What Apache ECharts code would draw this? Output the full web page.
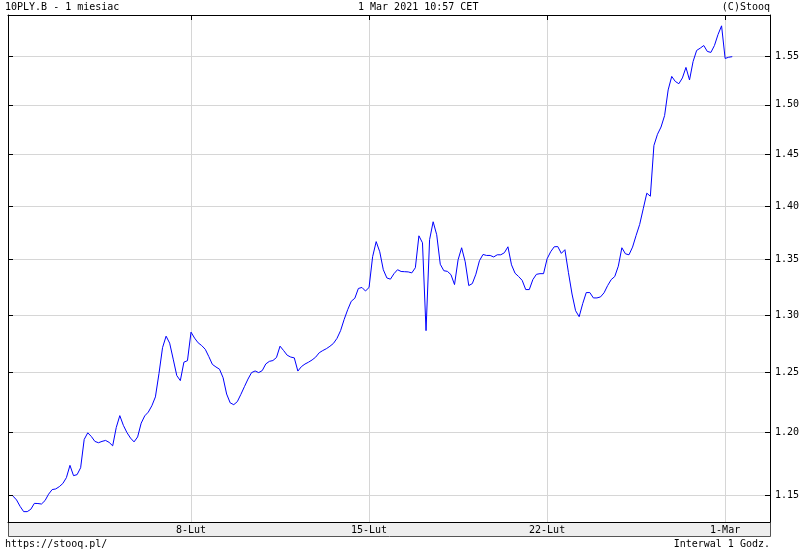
<!DOCTYPE html>
<html><head><meta charset="utf-8">
<script src="https://cdn.jsdelivr.net/npm/echarts@6/dist/echarts.min.js"></script>
<style>html,body{margin:0;padding:0;background:#fff}#c{width:800px;height:550px}</style>
</head><body><div id="c"></div>
<script>
// hourly 10Y PL bond yield, 1 Feb 2021 .. 1 Mar 2021 10:57 (trading hours only)
const yields = [
1.1492,1.1462,1.1412,1.1371,1.1371,1.1389,1.1435,1.1434,1.1430,1.1457,
1.1507,1.1543,1.1548,1.1566,1.1591,1.1637,1.1735,1.1653,1.1661,1.1716,
1.1944,1.1998,1.1968,1.1928,1.1917,1.1928,1.1936,1.1920,1.1892,1.2041,
1.2139,1.2059,1.2000,1.1955,1.1924,1.1964,1.2077,1.2137,1.2168,1.2221,
1.2295,1.2492,1.2714,1.2814,1.2753,1.2615,1.2475,1.2432,1.2589,1.2602,
1.2849,1.2797,1.2756,1.2732,1.2700,1.2637,1.2570,1.2548,1.2529,1.2457,
1.2319,1.2245,1.2230,1.2255,1.2316,1.2381,1.2445,1.2500,1.2514,1.2500,
1.2517,1.2574,1.2596,1.2603,1.2629,1.2727,1.2689,1.2649,1.2633,1.2626,
1.2513,1.2551,1.2573,1.2589,1.2608,1.2632,1.2670,1.2689,1.2705,1.2726,
1.2751,1.2795,1.2862,1.2960,1.3047,1.3122,1.3149,1.3237,1.3246,1.3214,
1.3246,1.3526,1.3666,1.3572,1.3407,1.3332,1.3321,1.3371,1.3407,1.3391,
1.3389,1.3387,1.3378,1.3425,1.3720,1.3655,1.2862,1.3684,1.3852,1.3730,
1.3457,1.3398,1.3392,1.3362,1.3272,1.3498,1.3609,1.3480,1.3263,1.3281,
1.3366,1.3489,1.3547,1.3538,1.3538,1.3524,1.3544,1.3544,1.3563,1.3618,
1.3452,1.3375,1.3345,1.3310,1.3227,1.3227,1.3317,1.3365,1.3371,1.3371,
1.3507,1.3572,1.3618,1.3620,1.3557,1.3591,1.3380,1.3187,1.3038,1.2985,
1.3101,1.3200,1.3200,1.3152,1.3152,1.3161,1.3198,1.3263,1.3317,1.3345,
1.3439,1.3609,1.3553,1.3544,1.3615,1.3724,1.3827,1.3975,1.4124,1.4095,
1.4590,1.4702,1.4775,1.4891,1.5153,1.5293,1.5241,1.5217,1.5277,1.5387,
1.5256,1.5449,1.5566,1.5590,1.5618,1.5555,1.5545,1.5618,1.5735,1.5829,
1.5481,1.5494,1.5500
];
// index of first hourly bar of each week
const weekTicks = [50, 100, 150, 200];
const weekLabels = ['8-Lut', '15-Lut', '22-Lut', '1-Mar'];
const yTicks = [1.15, 1.20, 1.25, 1.30, 1.35, 1.40, 1.45, 1.50, 1.55];

const FONT = 'DejaVu Sans Mono';
const seriesData = yields.map((v, i) => [i, v]);

const chart = echarts.init(document.getElementById('c'), null, {renderer: 'canvas'});
const yCommon = {
  type: 'log', logBase: 10, min: 1.1291, max: 1.5946,
  axisLine: {show: true, onZero: false, lineStyle: {color: '#000', width: 1}},
  axisTick: {show: true, inside: true, length: 5, lineStyle: {color: '#000'}, customValues: yTicks},
  axisLabel: {show: false, customValues: yTicks},
  splitLine: {show: false}
};
chart.setOption({
  animation: false,
  backgroundColor: '#fff',
  textStyle: {fontFamily: FONT},
  title: [
    {text: '10PLY.B - 1 miesiac', left: 5, top: 2, padding: 0, textStyle: {fontFamily: FONT, fontSize: 10, fontWeight: 'normal', color: '#000'}},
    {text: '1 Mar 2021 10:57 CET', left: 358, top: 2, padding: 0, textStyle: {fontFamily: FONT, fontSize: 10, fontWeight: 'normal', color: '#000'}},
    {text: '(C)Stooq', right: 30, top: 2, padding: 0, textStyle: {fontFamily: FONT, fontSize: 10, fontWeight: 'normal', color: '#000'}},
    {text: 'https://stooq.pl/', left: 5, top: 539, padding: 0, textStyle: {fontFamily: FONT, fontSize: 10, fontWeight: 'normal', color: '#000'}},
    {text: 'Interwal 1 Godz.', right: 30, top: 539, padding: 0, textStyle: {fontFamily: FONT, fontSize: 10, fontWeight: 'normal', color: '#000'}}
  ],
  grid: {left: 8, right: 30, top: 15, bottom: 28, containLabel: false, outerBoundsMode: 'none'},
  graphic: [{
    type: 'rect', left: 8, top: 522, z: -1,
    shape: {width: 762, height: 14},
    style: {fill: '#eeeeee', stroke: '#555', lineWidth: 1}
  }],
  xAxis: [{
    type: 'value', min: -1.4, max: 212.6, position: 'bottom',
    axisLine: {show: true, onZero: false, lineStyle: {color: '#000'}},
    axisTick: {show: false, customValues: weekTicks},
    axisLabel: {show: true, customValues: weekTicks, margin: 3, fontFamily: FONT, fontSize: 10, color: '#000',
      formatter: v => weekLabels[weekTicks.indexOf(Math.round(v))] || ''},
    splitLine: {show: true, lineStyle: {color: '#d6d6d6', width: 1}}
  }, {
    type: 'value', min: -1.4, max: 212.6, position: 'top',
    axisLine: {show: true, onZero: false, lineStyle: {color: '#000'}},
    axisTick: {show: true, inside: true, length: 5, lineStyle: {color: '#000'}, customValues: weekTicks},
    axisLabel: {show: false, customValues: weekTicks},
    splitLine: {show: false}
  }],
  yAxis: [
    Object.assign({}, yCommon, {position: 'left',
      splitLine: {show: true, lineStyle: {color: '#d6d6d6', width: 1}}}),
    Object.assign({}, yCommon, {position: 'right',
      axisLabel: {show: true, customValues: yTicks, margin: 5, fontFamily: FONT, fontSize: 10, color: '#000',
        formatter: v => Number(v).toFixed(2)}})
  ],
  series: [{
    type: 'line', xAxisIndex: 0, yAxisIndex: 0, data: seriesData,
    showSymbol: false, symbol: 'none', smooth: false,
    lineStyle: {color: '#0000ff', width: 1}, z: 5
  }]
});
</script></body></html>
